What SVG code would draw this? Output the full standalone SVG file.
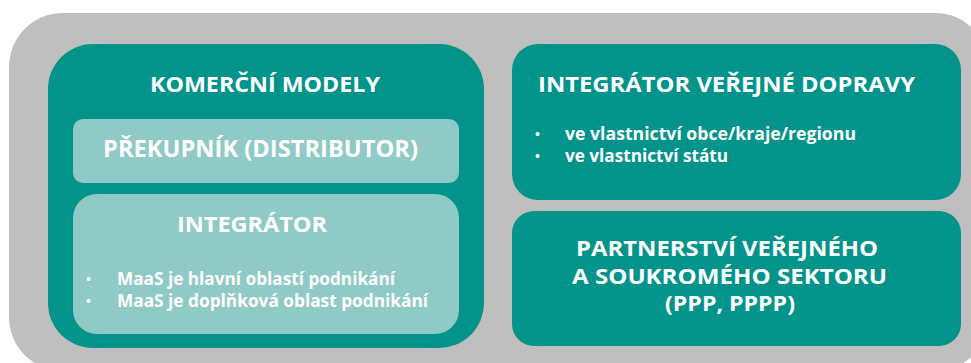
<svg xmlns="http://www.w3.org/2000/svg" width="971" height="363" viewBox="0 0 971 363">
<style>
.bg{fill:#bfbfbf}
.teal{fill:#02948a}
.light{fill:#8fcac6}
text{font-family:"Open Sans","Liberation Sans",sans-serif;font-weight:bold;fill:#ffffff}
.h{font-size:22px;text-anchor:middle}
.b{font-size:17.5px}
.d{font-size:13px}
</style>
<rect class="bg" x="9" y="13" width="980" height="358" rx="54"/>
<g id="komercni">
<rect class="teal" x="48" y="44" width="436" height="304" rx="45"/>
<text class="h" x="265" y="92" textLength="230" lengthAdjust="spacingAndGlyphs">KOMERČNÍ MODELY</text>
</g>
<g id="prekupnik">
<rect class="light" x="73" y="119" width="386" height="64" rx="10"/>
<text class="h" x="260.5" y="157" style="font-size:23.5px" textLength="315" lengthAdjust="spacingAndGlyphs">PŘEKUPNÍK (DISTRIBUTOR)</text>
</g>
<g id="integrator">
<rect class="light" x="73" y="194" width="386" height="140" rx="24"/>
<text class="h" x="252" y="232" textLength="150" lengthAdjust="spacingAndGlyphs">INTEGRÁTOR</text>
<text class="d" x="86" y="284">•</text>
<text class="b" x="117" y="285" textLength="278" lengthAdjust="spacingAndGlyphs">MaaS je hlavní oblastí podnikání</text>
<text class="d" x="86" y="306">•</text>
<text class="b" x="117" y="307" textLength="311" lengthAdjust="spacingAndGlyphs">MaaS je doplňková oblast podnikání</text>
</g>
<g id="integrator-verejne">
<rect class="teal" x="512" y="44" width="449" height="156" rx="26"/>
<text class="h" x="726.5" y="92" textLength="377" lengthAdjust="spacingAndGlyphs">INTEGRÁTOR VEŘEJNÉ DOPRAVY</text>
<text class="d" x="535" y="139">•</text>
<text class="b" x="565" y="140" textLength="291" lengthAdjust="spacingAndGlyphs">ve vlastnictví obce/kraje/regionu</text>
<text class="d" x="535" y="161">•</text>
<text class="b" x="565" y="162" textLength="163" lengthAdjust="spacingAndGlyphs">ve vlastnictví státu</text>
</g>
<g id="ppp">
<rect class="teal" x="512" y="211" width="449" height="135" rx="22"/>
<text class="h" x="727" y="256" textLength="302" lengthAdjust="spacingAndGlyphs">PARTNERSTVÍ VEŘEJNÉHO</text>
<text class="h" x="729.5" y="284" textLength="315" lengthAdjust="spacingAndGlyphs">A SOUKROMÉHO SEKTORU</text>
<text class="h" x="730" y="311" textLength="130" lengthAdjust="spacingAndGlyphs">(PPP, PPPP)</text>
</g>
<g id="connectors"/>
</svg>
